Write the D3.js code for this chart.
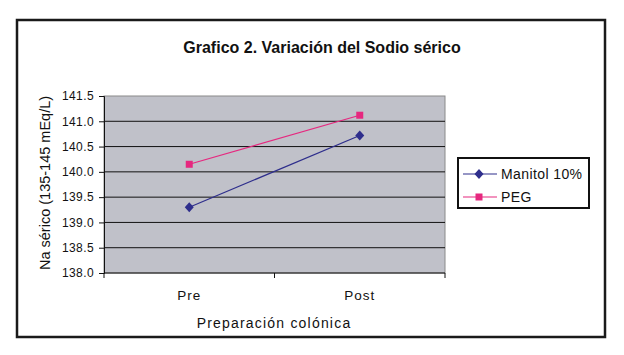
<!DOCTYPE html>
<html lang="es">
<head>
  <meta charset="UTF-8">
  <title>Grafico 2</title>
  <style>
    body {
      margin: 0;
      background: #fff;
      font-family: "Liberation Sans", Arial, sans-serif;
    }
    .tick text {
      font-size: 12px;
      letter-spacing: 0.4px;
      fill: #111;
    }
  </style>
</head>
<body>
  <svg id="chart" width="624" height="355"></svg>

  <script src="https://d3js.org/d3.v7.min.js"></script>
  <script>
    var categories = ["Pre", "Post"];
    var manitol = [139.3, 140.72];
    var peg = [140.15, 141.12];
    var yTicks = [138.0, 138.5, 139.0, 139.5, 140.0, 140.5, 141.0, 141.5];

    var series = [
      { name: "Manitol 10%", values: manitol, color: "#2e2e8c", marker: "diamond" },
      { name: "PEG", values: peg, color: "#e6287f", marker: "square" }
    ];

    var svg = d3.select("#chart");

    // outer frame
    svg.append("rect")
      .attr("x", 17).attr("y", 20)
      .attr("width", 588).attr("height", 317)
      .attr("fill", "none")
      .attr("stroke", "#1a1a1a")
      .attr("stroke-width", 2.5);

    var plot = { left: 104, right: 445, top: 96, bottom: 273 };

    var x = d3.scaleBand()
      .domain(categories)
      .range([plot.left, plot.right]);

    var y = d3.scaleLinear()
      .domain([138, 141.5])
      .range([plot.bottom, plot.top]);

    // plot background
    svg.append("rect")
      .attr("x", plot.left).attr("y", plot.top)
      .attr("width", plot.right - plot.left)
      .attr("height", plot.bottom - plot.top)
      .attr("fill", "#c0c1c9")
      .attr("stroke", "#8a8a8a")
      .attr("stroke-width", 1);

    // gridlines
    svg.append("g")
      .selectAll("line")
      .data(yTicks.slice(1, -1))
      .enter().append("line")
      .attr("x1", plot.left).attr("x2", plot.right)
      .attr("y1", function(d) { return y(d); })
      .attr("y2", function(d) { return y(d); })
      .attr("stroke", "#111")
      .attr("stroke-width", 1);

    // y axis
    var yAxis = svg.append("g")
      .attr("transform", "translate(" + plot.left + ",0)")
      .call(d3.axisLeft(y).tickValues(yTicks).tickFormat(d3.format(".1f")).tickSize(5).tickPadding(5));
    yAxis.select(".domain").attr("stroke", "#111");
    yAxis.selectAll(".tick line").attr("stroke", "#111");

    // x axis
    var xTicks = d3.range(categories.length + 1).map(function(i) {
      return plot.left + i * x.bandwidth();
    });
    svg.append("line")
      .attr("x1", plot.left).attr("x2", plot.right)
      .attr("y1", plot.bottom).attr("y2", plot.bottom)
      .attr("stroke", "#111");
    svg.append("g")
      .selectAll("line")
      .data(xTicks)
      .enter().append("line")
      .attr("x1", function(d) { return d; })
      .attr("x2", function(d) { return d; })
      .attr("y1", plot.bottom).attr("y2", plot.bottom + 5)
      .attr("stroke", "#111");

    svg.append("g")
      .selectAll("text")
      .data(categories)
      .enter().append("text")
      .attr("x", function(d) { return x(d) + x.bandwidth() / 2; })
      .attr("y", 300)
      .attr("text-anchor", "middle")
      .style("font-size", "13.5px")
      .style("letter-spacing", "1px")
      .attr("fill", "#111")
      .text(function(d) { return d; });

    // titles
    svg.append("text")
      .attr("x", 322).attr("y", 53)
      .attr("text-anchor", "middle")
      .style("font-size", "16px")
      .style("font-weight", "bold")
      .attr("fill", "#111")
      .text("Grafico 2. Variación del Sodio sérico");

    svg.append("text")
      .attr("x", 274).attr("y", 328)
      .attr("text-anchor", "middle")
      .style("font-size", "14px")
      .style("letter-spacing", "1.2px")
      .attr("fill", "#111")
      .text("Preparación colónica");

    svg.append("text")
      .attr("transform", "translate(50,183) rotate(-90)")
      .attr("text-anchor", "middle")
      .style("font-size", "14.5px")
      .attr("fill", "#111")
      .text("Na sérico (135-145 mEq/L)");

    // series
    var line = d3.line()
      .x(function(d, i) { return x(categories[i]) + x.bandwidth() / 2; })
      .y(function(d) { return y(d); });

    function drawMarker(g, s, cx, cy) {
      if (s.marker === "diamond") {
        g.append("path")
          .attr("d", "M0,-5L4.5,0L0,5L-4.5,0Z")
          .attr("transform", "translate(" + cx + "," + cy + ")")
          .attr("fill", s.color);
      } else {
        g.append("rect")
          .attr("x", cx - 3.5).attr("y", cy - 3.5)
          .attr("width", 7).attr("height", 7)
          .attr("fill", s.color);
      }
    }

    series.forEach(function(s) {
      var g = svg.append("g");
      g.append("path")
        .datum(s.values)
        .attr("d", line)
        .attr("fill", "none")
        .attr("stroke", s.color)
        .attr("stroke-width", 1.2);
      s.values.forEach(function(v, i) {
        drawMarker(g, s, x(categories[i]) + x.bandwidth() / 2, y(v));
      });
    });

    // legend
    svg.append("rect")
      .attr("x", 458).attr("y", 158)
      .attr("width", 131).attr("height", 50)
      .attr("fill", "#fff")
      .attr("stroke", "#111")
      .attr("stroke-width", 2);

    series.forEach(function(s, i) {
      var ly = 174 + i * 23;
      var lg = svg.append("g");
      lg.append("line")
        .attr("x1", 463).attr("x2", 497)
        .attr("y1", ly).attr("y2", ly)
        .attr("stroke", s.color)
        .attr("stroke-width", 1.2);
      drawMarker(lg, s, 479, ly);
      lg.append("text")
        .attr("x", 501).attr("y", ly + 5)
        .style("font-size", "14px")
        .style("letter-spacing", "0.4px")
        .attr("fill", "#111")
        .text(s.name);
    });
  </script>
</body>
</html>
